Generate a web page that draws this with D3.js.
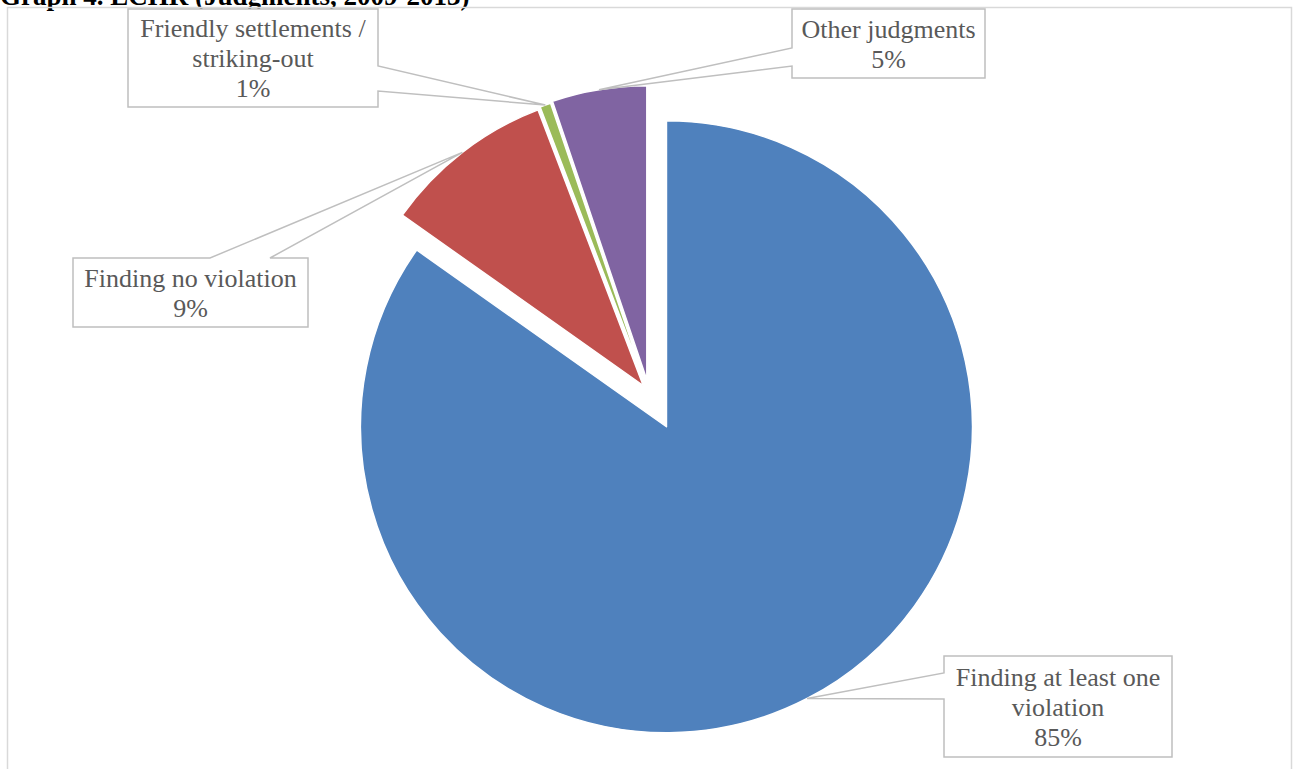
<!DOCTYPE html>
<html>
<head>
<meta charset="utf-8">
<style>
    body { margin: 0; background: #fff; }
    svg { display: block; }
</style>
</head>
<body>
<svg width="1293" height="769"></svg>
<script src="https://d3js.org/d3.v7.min.js"></script>
<script>
    // ECHR judgments 2009-2013, share of judgments (%)
    var categories = ["Finding at least one violation", "Finding no violation",
        "Friendly settlements / striking-out", "Other judgments"];
    var shares = [84.8, 9.4, 0.6, 5.2];
    var labelLines = [
        ["Finding at least one", "violation"],
        ["Finding no violation"],
        ["Friendly settlements /", "striking-out"],
        ["Other judgments"]
    ];
    var colors = ["#4F81BD", "#C0504D", "#9BBB59", "#8064A2"];

    // layout (not data): how far each slice is pulled out, radius, callout boxes
    var explode = [38, 9.5, 11, 13.4];
    var radius = [306, 295, 295, 294];
    var boxes = [
        { x: 944, y: 656, w: 228, h: 101, side: "left", a: 673, b: 699 },
        { x: 73, y: 258, w: 235, h: 69, side: "top", a: 210, b: 270 },
        { x: 128, y: 9, w: 250, h: 98, side: "right", a: 66, b: 91 },
        { x: 792, y: 9, w: 193, h: 69, side: "left", a: 48, b: 66 }
    ];

    var serif = "'Liberation Serif', 'Times New Roman', 'DejaVu Serif', serif";
    var svg = d3.select("svg");
    var cx = 649, cy = 393;

    // title, cut off at the top of the picture
    svg.append("text")
        .attr("x", 0).attr("y", 5)
        .attr("font-family", serif)
        .attr("font-size", 27)
        .attr("font-weight", "bold")
        .attr("fill", "#000")
        .text("Graph 4. ECHR (Judgments, 2009-2013)");

    // chart frame
    svg.append("rect")
        .attr("x", 7.5).attr("y", 7.5)
        .attr("width", 1284).attr("height", 780)
        .attr("fill", "none").attr("stroke", "#D9D9D9").attr("stroke-width", 1.5);

    var pie = d3.pie().sort(null).value(function (d) { return d; });
    var arcs = pie(shares);
    var total = d3.sum(shares);

    var g = svg.append("g").attr("transform", "translate(" + cx + "," + cy + ")");

    function offset(d, i) {
        var m = (d.startAngle + d.endAngle) / 2;
        return [explode[i] * Math.sin(m), -explode[i] * Math.cos(m)];
    }

    g.selectAll("path.slice")
        .data(arcs)
        .enter().append("path")
        .attr("class", "slice")
        .attr("transform", function (d, i) { var o = offset(d, i); return "translate(" + o[0] + "," + o[1] + ")"; })
        .attr("d", function (d, i) { return d3.arc().innerRadius(0).outerRadius(radius[i])(d); })
        .attr("fill", function (d, i) { return colors[i]; })
        .attr("stroke", "#fff")
        .attr("stroke-width", 1.5)
        .attr("stroke-linejoin", "round");

    // callouts
    arcs.forEach(function (d, i) {
        var o = offset(d, i);
        var tip = d3.arc().innerRadius(radius[i]).outerRadius(radius[i]).centroid(d);
        var tx = cx + o[0] + tip[0], ty = cy + o[1] + tip[1];
        var bx = boxes[i], x0 = bx.x, y0 = bx.y, x1 = bx.x + bx.w, y1 = bx.y + bx.h;
        var pts;
        if (bx.side === "left") {
            pts = [[x0, y0], [x1, y0], [x1, y1], [x0, y1], [x0, bx.b], [tx, ty], [x0, bx.a]];
        } else if (bx.side === "right") {
            pts = [[x0, y0], [x1, y0], [x1, bx.a], [tx, ty], [x1, bx.b], [x1, y1], [x0, y1]];
        } else {
            pts = [[x0, y0], [bx.a, y0], [tx, ty], [bx.b, y0], [x1, y0], [x1, y1], [x0, y1]];
        }
        svg.append("path")
            .attr("d", d3.line()(pts) + "Z")
            .attr("fill", "#fff")
            .attr("stroke", "#BFBFBF")
            .attr("stroke-width", 1.5);

        var lines = labelLines[i].concat([Math.round(shares[i] / total * 100) + "%"]);
        var lh = 30;
        var firstBase = y0 + bx.h / 2 - (lines.length - 1) * lh / 2 + 9;
        var t = svg.append("text")
            .attr("font-family", serif)
            .attr("font-size", 26)
            .attr("fill", "#595959")
            .attr("text-anchor", "middle");
        lines.forEach(function (s, k) {
            t.append("tspan").attr("x", (x0 + x1) / 2).attr("y", firstBase + k * lh).text(s);
        });
    });
</script>
</body>
</html>
